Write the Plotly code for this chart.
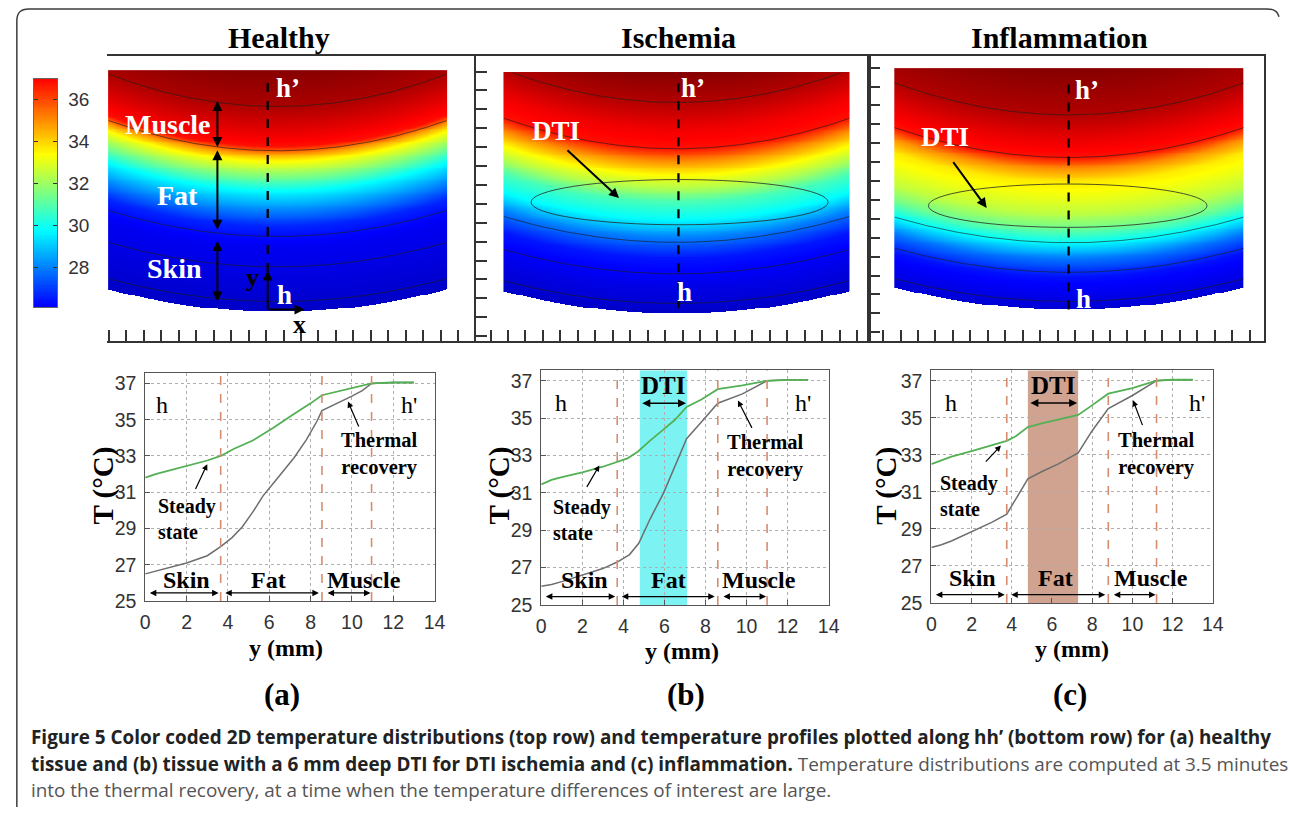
import numpy as np
import plotly.graph_objects as go

FIG_W, FIG_H = 1290, 818

# ---------------- Bottom row: temperature profiles along hh' ----------------
# (a) Healthy
a_ss_y = [0, 0.5, 1, 2, 3, 3.65, 4.3, 5.2, 6.2, 7.1, 8.0, 8.55, 9.5, 10.3, 10.95, 12, 13]
a_ss_T = [31.8, 32.0, 32.15, 32.45, 32.75, 33.0, 33.4, 33.85, 34.55, 35.25, 35.9, 36.35, 36.6, 36.8, 37.0, 37.05, 37.05]
a_tr_y = [0, 1, 2, 3, 3.65, 4.2, 4.7, 5.2, 5.7, 6.2, 6.7, 7.2, 7.8, 8.3, 8.55, 9.3, 10.0, 10.5, 10.95, 12, 13]
a_tr_T = [26.5, 26.8, 27.1, 27.5, 28.0, 28.5, 29.1, 29.9, 30.8, 31.5, 32.2, 32.9, 33.9, 34.9, 35.5, 35.9, 36.3, 36.6, 37.0, 37.05, 37.05]
a_layers = [3.65, 8.55, 10.95]

# (b) Ischemia
b_ss_y = [0, 0.5, 1, 2, 3, 3.7, 4.2, 4.7, 5.3, 5.96, 6.5, 7.08, 7.8, 8.6, 9.8, 11.0, 12, 13]
b_ss_T = [31.45, 31.7, 31.85, 32.1, 32.4, 32.65, 32.85, 33.2, 33.8, 34.4, 34.9, 35.6, 36.0, 36.55, 36.75, 37.0, 37.05, 37.05]
b_tr_y = [0, 0.5, 1, 2, 3, 3.7, 4.3, 4.75, 5.3, 5.96, 6.5, 7.08, 7.8, 8.6, 9.8, 11.0, 12, 13]
b_tr_T = [26.0, 26.1, 26.25, 26.6, 26.95, 27.3, 27.7, 28.3, 29.6, 31.0, 32.4, 33.9, 34.8, 35.8, 36.3, 37.0, 37.05, 37.05]
b_layers = [3.7, 8.6, 11.0]
b_dti = [4.8, 7.1]

# (c) Inflammation
c_ss_y = [0, 0.5, 1, 2, 3, 3.75, 4.2, 4.8, 5.5, 6.3, 7.3, 7.9, 8.8, 10, 11.2, 12, 13]
c_ss_T = [32.5, 32.7, 32.9, 33.2, 33.5, 33.75, 34.0, 34.5, 34.7, 34.9, 35.15, 35.6, 36.3, 36.6, 37.0, 37.05, 37.05]
c_tr_y = [0, 0.5, 1, 2, 3, 3.75, 4.2, 4.8, 5.5, 6.3, 7.3, 8.0, 8.8, 10, 11.2, 12, 13]
c_tr_T = [28.0, 28.15, 28.35, 28.85, 29.35, 29.8, 30.6, 31.7, 32.1, 32.5, 33.1, 34.3, 35.5, 36.2, 37.0, 37.05, 37.05]
c_layers = [3.75, 8.8, 11.2]
c_dti = [4.8, 7.3]

T_ticks = [25, 27, 29, 31, 33, 35, 37]
y_ticks = [0, 2, 4, 6, 8, 10, 12, 14]

# ---------------- Top row: 2D temperature maps (depth u from h, mm -> T) ----------------
H_prof_u = [0, 1.9, 3.5, 4.6, 5.6, 6.5, 7.3, 8.1, 8.5, 8.9, 9.8, 11.1, 13.0]
H_prof_T = [25.3, 25.7, 26.0, 26.7, 28.3, 29.8, 31.6, 33.4, 34.8, 36.8, 37.4, 38.2, 38.7]
H_iso_u = [11.06, 8.67, 4.04, 2.4, 0.53]

I_prof_u = [0, 1.4, 3.0, 4.1, 5.05, 6.0, 6.75, 7.45, 8.2, 8.9, 9.95, 11.4, 13.0]
I_prof_T = [25.3, 25.8, 26.5, 28.0, 29.8, 30.8, 32.3, 33.4, 35.0, 36.8, 37.2, 38.1, 38.7]
I_iso_u = [11.38, 8.88, 3.83, 2.13, 0.53]

F_prof_u = [0, 1.75, 2.7, 3.6, 4.4, 5.2, 6.0, 6.9, 7.6, 8.2, 9.2, 10.5, 12.9]
F_prof_T = [25.5, 26.4, 27.8, 29.8, 31.4, 32.5, 33.1, 33.7, 35.0, 36.8, 37.3, 38.1, 38.7]
F_iso_u = [10.5, 8.2, 3.6, 2.0, 0.43]

cb_ticks = [28, 30, 32, 34, 36]
cb_range = [26.1, 37.0]

# ---------------- styling / layout constants ----------------
SERIF = "Liberation Serif, Times New Roman, serif"
SANS = "Liberation Sans, Arial, sans-serif"
JET = [[0, "rgb(0,0,143)"], [0.125, "rgb(0,0,255)"], [0.375, "rgb(0,255,255)"],
       [0.625, "rgb(255,255,0)"], [0.875, "rgb(255,0,0)"], [1, "rgb(128,0,0)"]]
ZMIN, ZMAX = 24.4, 38.8
GREEN = "rgb(84,176,84)"
GRAY = "rgb(110,110,110)"
DASHC = "rgb(214,140,110)"
S0, S1, TOP = 1.2, 0.05, 13.0


def pxx(p):
    return p / FIG_W


def pxy(p):
    return 1 - p / FIG_H


fig = go.Figure()

# ---------- colorbar ----------
cb_vals = np.linspace(cb_range[0], cb_range[1], 200)
fig.add_trace(go.Heatmap(x=[0], y=cb_vals, z=[[v] for v in cb_vals], colorscale=JET,
                         zmin=ZMIN, zmax=ZMAX, showscale=False, hoverinfo="skip",
                         xaxis="x", yaxis="y"))


# ---------- top maps ----------
def slab(prof_u, prof_T, hw, step=0.05):
    xs = np.arange(-hw, hw + 1e-9, step)
    ys = np.arange(0, TOP + 1e-9, step)
    X, Y = np.meshgrid(xs, ys)
    r2 = (X / hw) ** 2
    U = (Y - S0 * r2) / (1 + S1 * r2)
    Z = np.interp(U, prof_u, prof_T)
    Z = np.where(U < 0, np.nan, Z)
    zl = [[None if np.isnan(v) else round(float(v), 2) for v in row] for row in Z]
    return [round(float(v), 3) for v in xs], [round(float(v), 3) for v in ys], zl


def isolines(iso_u, hw):
    xs, ys = [], []
    xx = np.linspace(-hw, hw, 160)
    for u in iso_u:
        yy = u + (S0 + S1 * u) * (xx / hw) ** 2
        for a, b in zip(xx, yy):
            xs.append(float(a))
            ys.append(float(b) if b <= TOP else None)
        xs.append(None)
        ys.append(None)
    return xs, ys


top_panels = [
    ("x2", "y2", H_prof_u, H_prof_T, H_iso_u, 9.1),
    ("x3", "y3", I_prof_u, I_prof_T, I_iso_u, 9.3),
    ("x4", "y4", F_prof_u, F_prof_T, F_iso_u, 9.39),
]
for xa, ya, pu, pT, iso, hw in top_panels:
    xs, ys, zl = slab(pu, pT, hw)
    fig.add_trace(go.Heatmap(x=xs, y=ys, z=zl, colorscale=JET, zmin=ZMIN, zmax=ZMAX,
                             showscale=False, hoverinfo="skip", xaxis=xa, yaxis=ya))
    lx, ly = isolines(iso, hw)
    fig.add_trace(go.Scatter(x=lx, y=ly, mode="lines", xaxis=xa, yaxis=ya,
                             line=dict(color="rgba(30,30,30,0.7)", width=0.9),
                             hoverinfo="skip", showlegend=False))

# dashed hh' lines
for xa, ya, x0, y0, y1 in [("x2", "y2", -0.53, 2.13, 12.6), ("x3", "y3", 0.1, 0.27, 12.7),
                           ("x4", "y4", -0.03, 0.0, 12.4)]:
    fig.add_trace(go.Scatter(x=[x0, x0], y=[y0, y1], mode="lines", xaxis=xa, yaxis=ya,
                             line=dict(color="black", width=2.3, dash="dash"),
                             hoverinfo="skip", showlegend=False))

# ---------- bottom profiles ----------
bottom = [
    ("x5", "y5", a_ss_y, a_ss_T, a_tr_y, a_tr_T),
    ("x6", "y6", b_ss_y, b_ss_T, b_tr_y, b_tr_T),
    ("x7", "y7", c_ss_y, c_ss_T, c_tr_y, c_tr_T),
]
for xa, ya, sy, sT, ty, tT in bottom:
    fig.add_trace(go.Scatter(x=ty, y=tT, mode="lines", xaxis=xa, yaxis=ya,
                             line=dict(color=GRAY, width=1.5), showlegend=False))
    fig.add_trace(go.Scatter(x=sy, y=sT, mode="lines", xaxis=xa, yaxis=ya,
                             line=dict(color=GREEN, width=1.8), showlegend=False))

shapes = []
annotations = []

# DTI bands
shapes.append(dict(type="rect", xref="x6", yref="y6 domain", x0=b_dti[0], x1=b_dti[1], y0=0, y1=1,
                   fillcolor="rgb(125,242,242)", line_width=0, layer="below"))
shapes.append(dict(type="rect", xref="x7", yref="y7 domain", x0=c_dti[0], x1=c_dti[1], y0=0, y1=1,
                   fillcolor="rgb(207,163,143)", line_width=0, layer="below"))
for xa, ya, layers in [("x5", "y5", a_layers), ("x6", "y6", b_layers), ("x7", "y7", c_layers)]:
    for v in layers:
        shapes.append(dict(type="line", xref=xa, yref=ya + " domain", x0=v, x1=v, y0=0, y1=1,
                           line=dict(color=DASHC, width=1.6, dash="dash")))

# DTI ellipses (top)
shapes.append(dict(type="circle", xref="x3", yref="y3", x0=0.16 - 8.0, x1=0.16 + 8.0,
                   y0=6.0 - 1.22, y1=6.0 + 1.22, line=dict(color="rgba(40,40,40,0.8)", width=1)))
shapes.append(dict(type="circle", xref="x4", yref="y4", x0=-0.08 - 7.5, x1=-0.08 + 7.5,
                   y0=5.6 - 1.17, y1=5.6 + 1.17, line=dict(color="rgba(40,40,40,0.8)", width=1)))

# outer rounded border
bx0, by0, bx1 = 12, 8, 1288
path = (f"M {pxx(bx0)} {pxy(818)} L {pxx(bx0)} {pxy(by0 + 12)} "
        f"Q {pxx(bx0)} {pxy(by0)} {pxx(bx0 + 12)} {pxy(by0)} "
        f"L {pxx(bx1 - 10)} {pxy(by0)} Q {pxx(bx1)} {pxy(by0)} {pxx(1290)} {pxy(by0 + 8)}")
shapes.append(dict(type="path", xref="paper", yref="paper", path=path,
                   line=dict(color="rgb(60,60,60)", width=1.5)))


def txt(xref, yref, x, y, text, size, color="black", bold=True, family=SERIF, **kw):
    t = f"<b>{text}</b>" if bold else text
    d = dict(xref=xref, yref=yref, x=x, y=y, text=t, showarrow=False, xanchor="center",
             yanchor="middle", font=dict(family=family, size=size, color=color))
    d.update(kw)
    annotations.append(d)


def arrow(xa, ya, x0, y0, x1, y1, both=False, width=1.6, head=2, size=1.0):
    d = dict(xref=xa, yref=ya, axref=xa, ayref=ya, x=x1, y=y1, ax=x0, ay=y0, text="",
             showarrow=True, arrowhead=head, arrowsize=size, arrowwidth=width, arrowcolor="black")
    if both:
        d.update(arrowside="end+start", startarrowhead=head, startarrowsize=size)
    annotations.append(d)


# titles
txt("paper", "paper", pxx(277), pxy(37), "Healthy", 30)
txt("paper", "paper", pxx(682), pxy(37), "Ischemia", 30)
txt("paper", "paper", pxx(1068), pxy(37), "Inflammation", 30)

# healthy top annotations
txt("x2", "y2", -5.9, 10.1, "Muscle", 28, "white")
txt("x2", "y2", -5.37, 6.28, "Fat", 28, "white")
txt("x2", "y2", -5.53, 2.29, "Skin", 28, "white")
arrow("x2", "y2", -3.24, 11.44, -3.24, 8.88, both=True, width=2)
arrow("x2", "y2", -3.24, 8.78, -3.24, 4.41, both=True, width=2)
arrow("x2", "y2", -3.24, 3.88, -3.24, 0.53, both=True, width=2)
arrow("x2", "y2", -0.53, 0.0, -0.53, 2.2, width=2)
arrow("x2", "y2", -0.53, 0.1, 1.45, 0.1, width=2)
txt("x2", "y2", 0.55, 12.07, "h’", 27, "white")
txt("x2", "y2", 0.4, 0.9, "h", 27, "white")
txt("x2", "y2", -1.35, 1.8, "y", 26, "black")
txt("x2", "y2", 1.2, -0.7, "x", 26, "black")

# ischemia top
txt("x3", "y3", 0.9, 12.18, "h’", 27, "white")
txt("x3", "y3", 0.45, 1.17, "h", 27, "white")
txt("x3", "y3", -6.5, 9.84, "DTI", 27, "white")
arrow("x3", "y3", -5.96, 8.88, -3.1, 6.22, width=2)

# inflammation top
txt("x4", "y4", 0.98, 11.86, "h’", 27, "white")
txt("x4", "y4", 0.77, 0.59, "h", 27, "white")
txt("x4", "y4", -6.68, 9.31, "DTI", 27, "white")
arrow("x4", "y4", -6.3, 8.03, -4.44, 5.48, width=2)

# bottom annotations
bot_ann = [
    ("x5", "y5", a_layers, (0.79, 12.75), (0.5, 29.55), (2.4, 31.1, 3.0, 32.55), (11.32, 33.1),
     (10.36, 34.54, 9.81, 36.0), [(1.98, 26.15), (5.97, 26.15), (10.6, 26.15)], None),
    ("x6", "y6", b_layers, (0.98, 12.77), (0.48, 29.55), (2.18, 31.24, 2.83, 32.47), (10.94, 33.0),
     (10.3, 34.4, 9.58, 35.94), [(2.1, 26.35), (6.2, 26.35), (10.6, 26.35)], b_dti),
    ("x7", "y7", c_layers, (0.99, 13.2), (0.34, 30.8), (2.64, 32.55, 3.46, 33.5), (11.18, 33.05),
     (10.53, 34.52, 10.03, 35.94), [(2.07, 26.35), (6.16, 26.35), (10.9, 26.35)], c_dti),
]
for xa, ya, layers, hpos, sspos, ssarr, trpos, trarr, lab, dti in bot_ann:
    txt(xa, ya, hpos[0], 35.8, "h", 24, bold=False)
    txt(xa, ya, hpos[1], 35.8, "h'", 24, bold=False)
    txt(xa, ya, sspos[0], sspos[1], "Steady<br>state", 20, xanchor="left", align="left")
    arrow(xa, ya, *ssarr, width=1.2, head=2, size=1.0)
    txt(xa, ya, trpos[0], trpos[1], "Thermal<br>recovery", 20.5, align="center")
    arrow(xa, ya, *trarr, width=1.2, head=2, size=1.0)
    for (lx, ly), name in zip(lab, ["Skin", "Fat", "Muscle"]):
        txt(xa, ya, lx, ly, name, 24)
    arrow(xa, ya, 0.15, 25.45, layers[0] - 0.1, 25.45, both=True, width=1.3)
    arrow(xa, ya, layers[0] + 0.15, 25.45, layers[1] - 0.15, 25.45, both=True, width=1.3)
    arrow(xa, ya, layers[1] + 0.2, 25.45, layers[2] - 0.05, 25.45, both=True, width=1.3)
    if dti is not None:
        arrow(xa, ya, dti[0] + 0.05, 35.8, dti[1] - 0.05, 35.8, both=True, width=1.6)
        txt(xa, ya, (dti[0] + dti[1]) / 2, 36.75, "DTI", 25)

# axis titles and panel letters
for cx, cyl, tx, letter, lx in [(285, 657, 100, "(a)", 280), (685, 660, 501, "(b)", 690),
                                (1080, 658, 893, "(c)", 1078)]:
    txt("paper", "paper", pxx(cx), pxy(cyl), "y (mm)", 24)
    txt("paper", "paper", pxx(tx), pxy(492), "T (°C)", 29, textangle=-90)
    txt("paper", "paper", pxx(lx), pxy(704), letter, 31)

# caption
CAP = "Open Sans, Noto Sans, sans-serif"
cap_lines = [
    "<b>Figure 5 Color coded 2D temperature distributions (top row) and temperature profiles plotted along hh’ (bottom row) for (a) healthy</b>",
    "<b>tissue and (b) tissue with a 6 mm deep DTI for DTI ischemia and (c) inflammation.</b> "
    "<span style='color:#555'>Temperature distributions are computed at 3.5 minutes</span>",
    "<span style='color:#555'>into the thermal recovery, at a time when the temperature differences of interest are large.</span>",
]
for i, line in enumerate(cap_lines):
    annotations.append(dict(xref="paper", yref="paper", x=pxx(24), y=pxy(747 + 27 * i), xanchor="left",
                            yanchor="middle", text=line, showarrow=False,
                            font=dict(family=CAP, size=18.9, color="#222")))


# ---------------- axes ----------------
def dom_x(a, b):
    return [pxx(a), pxx(b)]


def dom_y(top, bot):
    return [pxy(bot), pxy(top)]


layout = dict(
    width=FIG_W, height=FIG_H, margin=dict(l=0, r=0, t=0, b=0),
    paper_bgcolor="white", plot_bgcolor="white", showlegend=False,
    shapes=shapes, annotations=annotations,
)

# colorbar axes
layout["xaxis"] = dict(domain=dom_x(29, 53), range=[-0.5, 0.5], showticklabels=False, ticks="",
                       showline=True, mirror=True, linecolor="#666", linewidth=1, showgrid=False,
                       zeroline=False, fixedrange=True)
layout["yaxis"] = dict(domain=dom_y(79, 311), range=cb_range, side="right", tickvals=cb_ticks,
                       ticks="inside", ticklen=4, tickcolor="#333", mirror="ticks", showline=True,
                       linecolor="#666", showgrid=False, zeroline=False, ticklabelstandoff=6,
                       tickfont=dict(family=SANS, size=19, color="#333"), anchor="x")

top_axes = [
    (2, (103, 477), [-9.2, 10.69], [-1.6, 13.78], False),
    (3, (477, 875), [-10.8, 10.37], [-1.49, 13.88], True),
    (4, (875, 1275), [-10.77, 10.5], [-1.7, 13.67], True),
]
for k, (xl, xr), xr_, yr_, leftline in top_axes:
    layout[f"xaxis{k}"] = dict(domain=dom_x(xl, xr), range=xr_, anchor=f"y{k}", showticklabels=False,
                               ticks="inside", ticklen=11, tickwidth=1.5, tickcolor="#333",
                               tick0=0.32, dtick=0.94, showline=True, mirror=True,
                               linecolor="#333", linewidth=1.6, showgrid=False, zeroline=False)
    layout[f"yaxis{k}"] = dict(domain=dom_y(56, 345), range=yr_, anchor=f"x{k}", showticklabels=False,
                               ticks="inside" if leftline else "", ticklen=11, tickwidth=1.5,
                               tickcolor="#333", tick0=0.81, dtick=1.02, showline=leftline,
                               mirror=True, linecolor="#333", linewidth=1.6, showgrid=False,
                               zeroline=False)

bot_axes = [(5, (142, 435), (378, 609)), (6, (543, 834), (375, 613)), (7, (938, 1223), (375, 611))]
for k, (xl, xr), (yt, yb) in bot_axes:
    common = dict(showgrid=True, gridcolor="rgb(175,175,175)", griddash="dot", gridwidth=1,
                  showline=True, mirror=True, linecolor="#555", linewidth=1, ticks="inside",
                  ticklen=5, tickcolor="#555", zeroline=False, ticklabelstandoff=4,
                  tickfont=dict(family=SANS, size=19.5, color="#333"))
    layout[f"xaxis{k}"] = dict(domain=dom_x(xl, xr), range=[0, 14], tickvals=y_ticks,
                               anchor=f"y{k}", **common)
    layout[f"yaxis{k}"] = dict(domain=dom_y(yt, yb), range=[25, 37.55], tickvals=T_ticks,
                               anchor=f"x{k}", **common)

fig.update_layout(**layout)
fig.write_html("out.html", config={"displayModeBar": False},
               post_script="document.body.style.margin='0';")
